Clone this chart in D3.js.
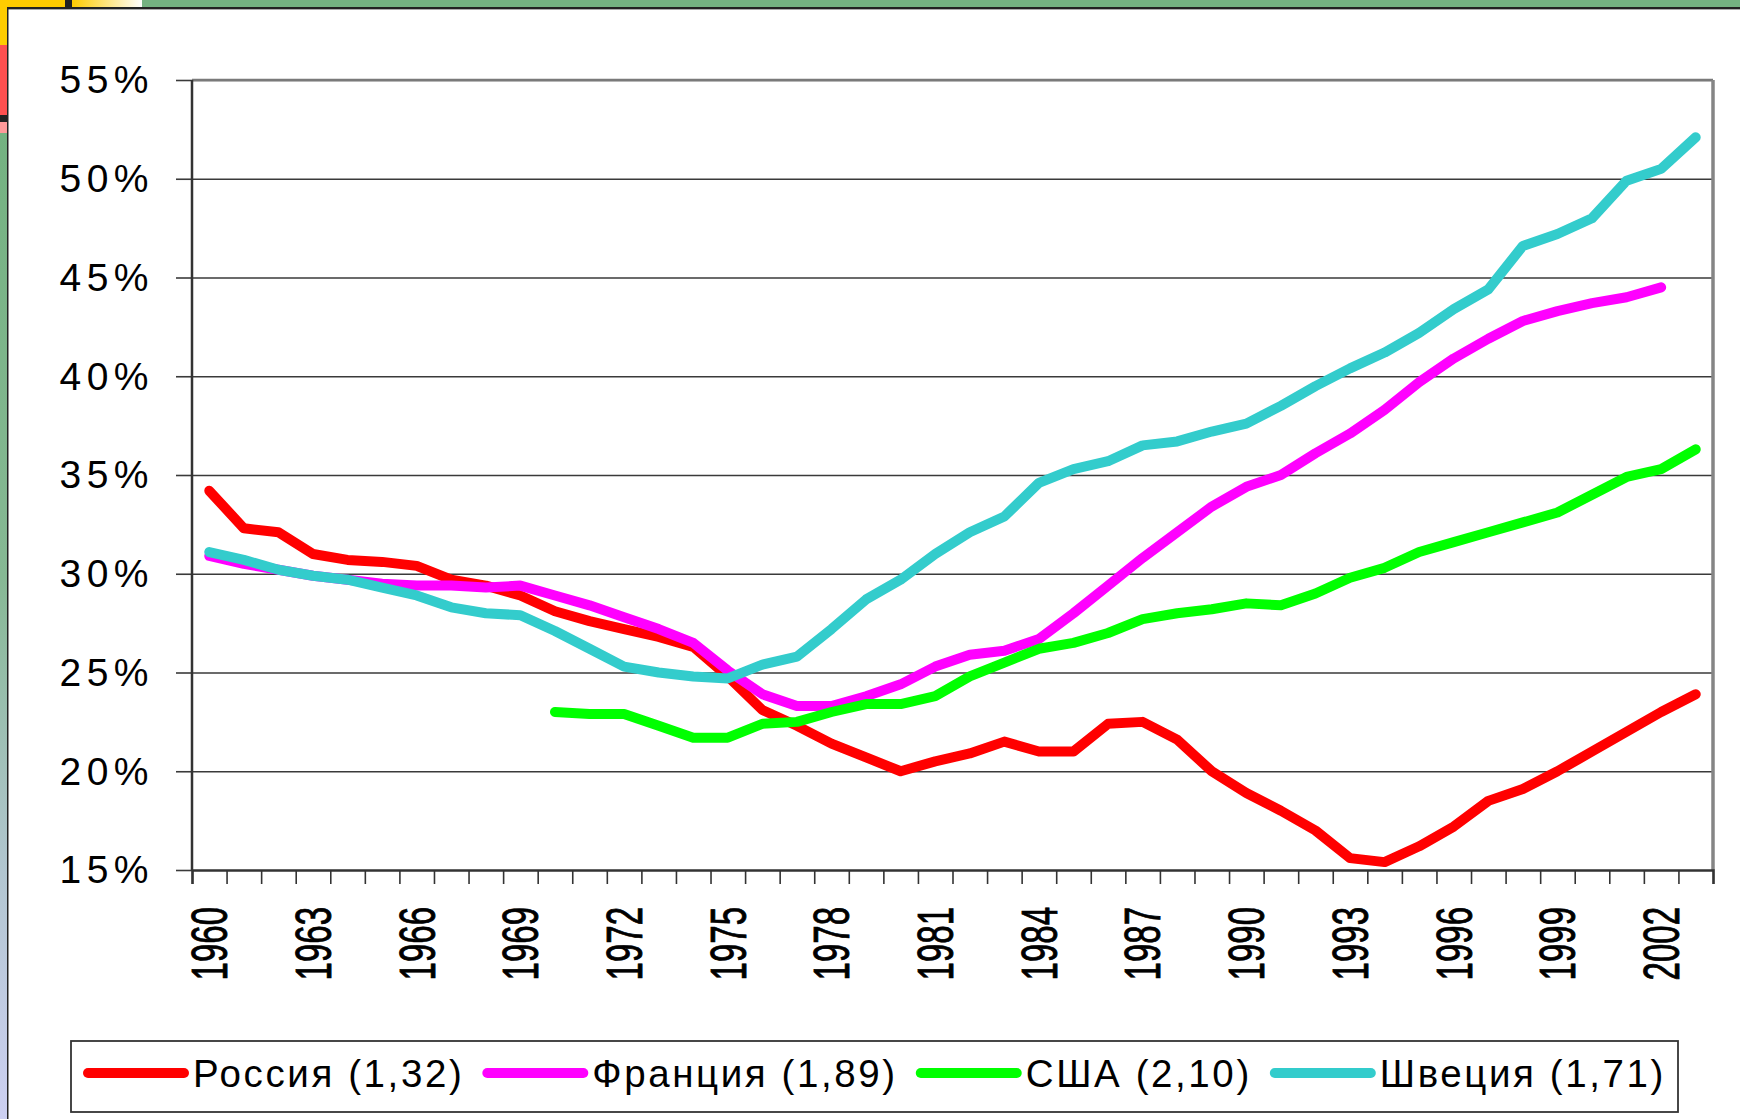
<!DOCTYPE html>
<html>
<head>
<meta charset="utf-8">
<script src="https://cdn.jsdelivr.net/npm/d3@7"></script>
<style>
  body { margin: 0; background: #fff; }
  svg { display: block; }
  text { font-family: "Liberation Sans", Arial, sans-serif; fill: #000; }
</style>
</head>
<body>
<script>
// years on the category axis
const years = [1960, 1961, 1962, 1963, 1964, 1965, 1966, 1967, 1968, 1969,
               1970, 1971, 1972, 1973, 1974, 1975, 1976, 1977, 1978, 1979,
               1980, 1981, 1982, 1983, 1984, 1985, 1986, 1987, 1988, 1989,
               1990, 1991, 1992, 1993, 1994, 1995, 1996, 1997, 1998, 1999,
               2000, 2001, 2002, 2003];

// values in %
const russia = [34.2, 32.3, 32.1, 31.0, 30.7, 30.6, 30.4, 29.7, 29.4, 28.9,
                28.1, 27.6, 27.2, 26.8, 26.3, 24.8, 23.1, 22.3, 21.4, 20.7,
                20.0, 20.5, 20.9, 21.5, 21.0, 21.0, 22.4, 22.5, 21.6, 20.0,
                18.9, 18.0, 17.0, 15.6, 15.4, 16.2, 17.2, 18.5, 19.1, 20.0,
                21.0, 22.0, 23.0, 23.9];
const france = [30.9, 30.5, 30.2, 29.9, 29.7, 29.5, 29.4, 29.4, 29.3, 29.4,
                28.9, 28.4, 27.8, 27.2, 26.5, 25.1, 23.9, 23.3, 23.3, 23.8,
                24.4, 25.3, 25.9, 26.1, 26.7, 28.0, 29.4, 30.8, 32.1, 33.4,
                34.4, 35.0, 36.1, 37.1, 38.3, 39.7, 40.9, 41.9, 42.8, 43.3,
                43.7, 44.0, 44.5, null];
const usa = [null, null, null, null, null, null, null, null, null, null,
             23.0, 22.9, 22.9, 22.3, 21.7, 21.7, 22.4, 22.5, 23.0, 23.4,
             23.4, 23.8, 24.8, 25.5, 26.2, 26.5, 27.0, 27.7, 28.0, 28.2,
             28.5, 28.4, 29.0, 29.8, 30.3, 31.1, 31.6, 32.1, 32.6, 33.1,
             34.0, 34.9, 35.3, 36.3];
const sweden = [31.1, 30.7, 30.2, 29.9, 29.7, 29.3, 28.9, 28.3, 28.0, 27.9,
                27.1, 26.2, 25.3, 25.0, 24.8, 24.7, 25.4, 25.8, 27.2, 28.7,
                29.7, 31.0, 32.1, 32.9, 34.6, 35.3, 35.7, 36.5, 36.7, 37.2,
                37.6, 38.5, 39.5, 40.4, 41.2, 42.2, 43.4, 44.4, 46.6, 47.2,
                48.0, 49.9, 50.5, 52.1];

const seriesNames = ["Россия (1,32)", "Франция (1,89)", "США (2,10)", "Швеция (1,71)"];
const seriesColors = ["#ff0000", "#ff00ff", "#00ff00", "#33cccc"];
const yTicks = [15, 20, 25, 30, 35, 40, 45, 50, 55];
const labelYears = [1960, 1963, 1966, 1969, 1972, 1975, 1978, 1981, 1984, 1987,
                    1990, 1993, 1996, 1999, 2002];

const width = 1740, height = 1119;
const margin = { top: 80, right: 27, bottom: 249, left: 192 };

const svg = d3.select("body").append("svg")
    .attr("width", width)
    .attr("height", height);

// slide decoration around the chart
const defs = svg.append("defs");
const fade = defs.append("linearGradient").attr("id", "fade");
fade.append("stop").attr("offset", "0%").attr("stop-color", "#ffcc00");
fade.append("stop").attr("offset", "100%").attr("stop-color", "#ffffff");
const side = defs.append("linearGradient").attr("id", "side")
    .attr("x1", 0).attr("y1", 0).attr("x2", 0).attr("y2", 1);
side.append("stop").attr("offset", "0%").attr("stop-color", "#74b281");
side.append("stop").attr("offset", "45%").attr("stop-color", "#86b894");
side.append("stop").attr("offset", "75%").attr("stop-color", "#b2c6d0");
side.append("stop").attr("offset", "100%").attr("stop-color", "#cdd0f2");

svg.append("rect").attr("width", width).attr("height", height).attr("fill", "#fff");
svg.append("rect").attr("x", 142).attr("y", 0).attr("width", width - 142).attr("height", 7).attr("fill", "#74b281");
svg.append("rect").attr("x", 0).attr("y", 0).attr("width", 65).attr("height", 7).attr("fill", "#ffcc00");
svg.append("rect").attr("x", 65).attr("y", 0).attr("width", 7).attr("height", 7).attr("fill", "#222");
svg.append("rect").attr("x", 72).attr("y", 0).attr("width", 70).attr("height", 7).attr("fill", "url(#fade)");
svg.append("rect").attr("x", 0).attr("y", 0).attr("width", 7).attr("height", 45).attr("fill", "#ffcc00");
svg.append("rect").attr("x", 0).attr("y", 45).attr("width", 7).attr("height", 70).attr("fill", "#ff5050");
svg.append("rect").attr("x", 0).attr("y", 115).attr("width", 7).attr("height", 7).attr("fill", "#222");
svg.append("rect").attr("x", 0).attr("y", 122).attr("width", 7).attr("height", 11).attr("fill", "#ff9a9a");
svg.append("rect").attr("x", 0).attr("y", 133).attr("width", 7).attr("height", height - 133).attr("fill", "url(#side)");
svg.append("rect").attr("x", 7).attr("y", 7).attr("width", width - 7).attr("height", 2).attr("fill", "#222");
svg.append("rect").attr("x", 7).attr("y", 9).attr("width", width - 7).attr("height", 1).attr("fill", "#aaa");
svg.append("rect").attr("x", 7).attr("y", 7).attr("width", 1.5).attr("height", height - 7).attr("fill", "#222");

// scales
const x = d3.scaleBand().domain(years).range([margin.left, width - margin.right]).padding(0);
const xEdge = d3.scaleLinear().domain([1960, 2004]).range([margin.left, width - margin.right]);
const y = d3.scaleLinear().domain([15, 55]).range([height - margin.bottom, margin.top]);
const plotW = width - margin.right - margin.left;

// gridlines + y axis
const yAxis = svg.append("g")
    .attr("transform", `translate(${margin.left},0)`)
    .call(d3.axisLeft(y).tickValues(yTicks).tickSize(16).tickFormat(d => d + "%"));
yAxis.select(".domain").remove();
yAxis.selectAll(".tick line").attr("stroke", "#3a3a3a").attr("stroke-width", 1.6);
yAxis.selectAll(".tick text")
    .attr("x", -38)
    .attr("dy", "0.33em")
    .style("font-size", "39px")
    .style("letter-spacing", "5.5px");

const grid = svg.append("g")
    .attr("transform", `translate(${margin.left},0)`)
    .call(d3.axisLeft(y).tickValues(yTicks.slice(1)).tickSize(-plotW).tickFormat(""));
grid.select(".domain").remove();
grid.selectAll(".tick line").attr("stroke", "#3a3a3a").attr("stroke-width", 1.6);

// plot frame: gray on top/right, dark on left/bottom
svg.append("line").attr("x1", margin.left).attr("x2", width - margin.right)
    .attr("y1", y(55)).attr("y2", y(55)).attr("stroke", "#7a7a7a").attr("stroke-width", 2.5);
svg.append("line").attr("x1", width - margin.right).attr("x2", width - margin.right)
    .attr("y1", y(55)).attr("y2", y(15)).attr("stroke", "#858585").attr("stroke-width", 3.5);
svg.append("line").attr("x1", margin.left).attr("x2", margin.left)
    .attr("y1", y(55)).attr("y2", y(15)).attr("stroke", "#333").attr("stroke-width", 2.5);

// x axis: ticks on the category edges
const xAxis = svg.append("g")
    .attr("transform", `translate(0,${y(15)})`)
    .call(d3.axisBottom(xEdge).tickValues(d3.range(1960, 2005)).tickSize(14).tickFormat(""));
xAxis.select(".domain").attr("stroke", "#333").attr("stroke-width", 2.5);
xAxis.selectAll(".tick line").attr("stroke", "#333").attr("stroke-width", 1.6);

// rotated year labels (glyphs are stretched in the picture)
svg.append("g").selectAll("text")
    .data(labelYears)
    .join("text")
    .attr("transform", d => `translate(${x(d) + x.bandwidth() / 2},${y(15) + 37}) rotate(-90) scale(1,1.5)`)
    .attr("text-anchor", "end")
    .attr("dy", "0.36em")
    .attr("stroke", "#000")
    .attr("stroke-width", 0.6)
    .style("font-size", "33px")
    .text(d => d);

// lines
const allSeries = [russia, france, usa, sweden];
const line = d3.line()
    .defined(d => d != null)
    .x((d, i) => x(years[i]) + x.bandwidth() / 2)
    .y(d => y(d));

svg.append("g").selectAll("path")
    .data(allSeries)
    .join("path")
    .attr("fill", "none")
    .attr("stroke", (d, i) => seriesColors[i])
    .attr("stroke-width", 10)
    .attr("stroke-linejoin", "round")
    .attr("stroke-linecap", "round")
    .attr("d", line);

// legend
const legend = svg.append("g");
legend.append("rect")
    .attr("x", 71).attr("y", 1041)
    .attr("width", 1607).attr("height", 71)
    .attr("fill", "#fff")
    .attr("stroke", "#333")
    .attr("stroke-width", 1.8);

let lx = 84;
seriesNames.forEach((name, i) => {
    legend.append("line")
        .attr("x1", lx + 4).attr("x2", lx + 100)
        .attr("y1", 1073).attr("y2", 1073)
        .attr("stroke", seriesColors[i])
        .attr("stroke-width", 10)
        .attr("stroke-linecap", "round");
    const t = legend.append("text")
        .attr("x", lx + 109)
        .attr("y", 1087)
        .style("font-size", "38.5px")
        .style("letter-spacing", "2.6px")
        .text(name);
    lx = lx + 109 + t.node().getComputedTextLength() + 19;
});
</script>
</body>
</html>
